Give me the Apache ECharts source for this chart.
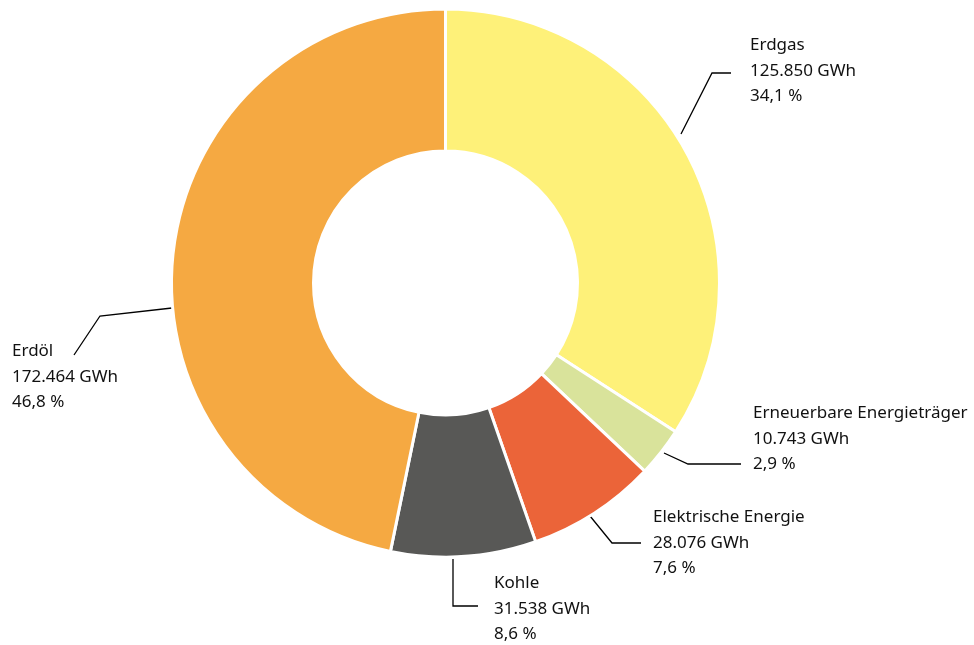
<!DOCTYPE html>
<html>
<head>
<meta charset="utf-8">
<script src="https://cdn.jsdelivr.net/npm/echarts@6/dist/echarts.min.js"></script>
<style>
html,body{margin:0;padding:0;background:#fff;}
#chart{width:974px;height:645px;}
</style>
</head>
<body>
<div id="chart"></div>
<script>
// Data (clockwise from 12 o'clock)
const categories = ['Erdgas', 'Erneuerbare Energieträger', 'Elektrische Energie', 'Kohle', 'Erdöl'];
const valuesGWh = [125850, 10743, 28076, 31538, 172464];
const colors = ['#FEF179', '#D9E39B', '#EB6439', '#585856', '#F5A942'];

// Label placement (layout only): text anchor (left, vertical middle) and leader line points
const labelLayouts = [
  { x: 750, y: 71,  line: [[681, 134], [712, 73], [731, 73]] },
  { x: 753, y: 439, line: [[664, 453], [688, 464], [741, 464]] },
  { x: 653, y: 543, line: [[590, 516], [612, 543], [641, 543]] },
  { x: 494, y: 609, line: [[453, 559], [453, 606], [478, 606]] },
  { x: 12,  y: 377, line: [[172, 308], [100, 316], [74, 355]] }
];

const total = valuesGWh.reduce((a, b) => a + b, 0);
function fmtInt(v) { return String(v).replace(/\B(?=(\d{3})+(?!\d))/g, '.'); }
function fmtPct(v) { return (v / total * 100).toFixed(1).replace('.', ','); }

const chart = echarts.init(document.getElementById('chart'), null, { renderer: 'canvas' });
chart.setOption({
  backgroundColor: '#ffffff',
  animation: false,
  series: [{
    type: 'pie',
    center: [445.5, 283],
    radius: [132, 274],
    startAngle: 90,
    clockwise: true,
    avoidLabelOverlap: false,
    itemStyle: { borderColor: '#ffffff', borderWidth: 3 },
    label: {
      show: true,
      position: 'outside',
      fontFamily: 'Noto Sans',
      fontSize: 17,
      lineHeight: 25.5,
      color: '#111111',
      align: 'left',
      formatter: p => p.name + '\n' + fmtInt(p.value) + ' GWh\n' + fmtPct(p.value) + ' %'
    },
    labelLine: { show: true, lineStyle: { color: '#000', width: 1.3 } },
    labelLayout: function (params) {
      const L = labelLayouts[params.dataIndex];
      return {
        x: L.x, y: L.y, align: 'left', verticalAlign: 'middle',
        labelLinePoints: L.line
      };
    },
    emphasis: { disabled: true },
    data: categories.map((c, i) => ({ name: c, value: valuesGWh[i], itemStyle: { color: colors[i] } }))
  }]
});
</script>
</body>
</html>
